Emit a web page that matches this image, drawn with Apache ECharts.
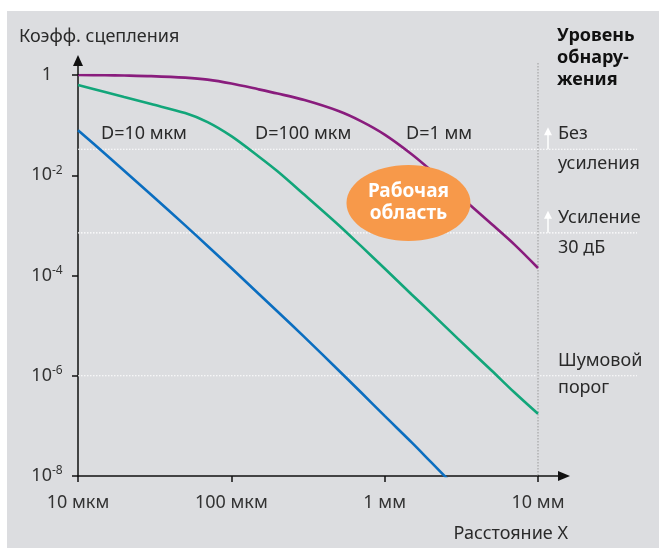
<!DOCTYPE html>
<html><head><meta charset="utf-8">
<script src="https://cdn.jsdelivr.net/npm/echarts@6/dist/echarts.min.js"></script>
<style>html,body{margin:0;padding:0;background:#fff}#c{width:659px;height:548px}</style>
</head><body><div id="c"></div>
<script>
// ---- data ----
const xDist = [10,15,20,30,50,70,100,150,200,300,500,700,1000,1500,2000,3000,5000,7000,10000]; // мкм
const yD1mm   = [1,0.989,0.975,0.948,0.885,0.809,0.676,0.519,0.427,0.316,0.191,0.120,0.0646,0.0263,0.0126,0.00417,0.00105,4.17e-4,1.41e-4];
const yD100um = [0.631,0.457,0.363,0.263,0.174,0.115,0.0603,0.024,0.012,0.00407,0.00102,3.89e-4,1.38e-4,4.17e-5,1.82e-5,5.5e-6,1.26e-6,4.68e-7,1.74e-7];
const yD10um  = [0.0794,0.0269,0.0123,0.00407,0.001,3.89e-4,1.41e-4,4.37e-5,1.91e-5,5.89e-6,1.29e-6,4.68e-7,1.58e-7,4.68e-8,1.91e-8,5.4e-9,null,null,null];
const seriesNames = ['D=10 мкм','D=100 мкм','D=1 мм'];
const xTickLabels = ['10 мкм','100 мкм','1 мм','10 мм'];
const detectLevels = [0.033, 7.1e-4, 1e-6];
const detectLabels = [['Без','усиления'],['Усиление','30 дБ'],['Шумовой','порог']];
const workArea = [1430, 2.8e-3]; // центр "Рабочая область"

const FF = "'Noto Sans','Open Sans',sans-serif";
const TXT = '#2a2a2a';
const toPairs = arr => xDist.map((x,i)=>[x,arr[i]]).filter(p=>p[1]!=null);

const chart = echarts.init(document.getElementById('c'));
chart.setOption({
  animation:false,
  backgroundColor:'#ffffff',
  grid:{left:78,right:121,top:75,bottom:72,containLabel:false},
  xAxis:{type:'log',logBase:10,min:10,max:10000,
    axisLine:{show:true,lineStyle:{color:'#111',width:1.5}},
    axisTick:{show:true,length:6,lineStyle:{color:'#111',width:1.5}},
    minorTick:{show:false},splitLine:{show:false},
    axisLabel:{margin:18,fontSize:18,color:'#333',fontFamily:FF,
      formatter:v=>xTickLabels[Math.round(Math.log10(v))-1]}},
  yAxis:{type:'log',logBase:10,min:1e-8,max:1,interval:2,
    axisLine:{show:true,lineStyle:{color:'#111',width:1.5}},
    axisTick:{show:true,length:6,lineStyle:{color:'#111',width:1.5}},
    minorTick:{show:false},splitLine:{show:false},
    axisLabel:{margin:31,align:'center',color:'#333',fontFamily:FF,
      formatter:v=>{const e=Math.round(Math.log10(v)); return e===0?'{b|1}':'{b|10}{s|'+e+'}';},
      rich:{b:{fontSize:18,fontFamily:FF,color:'#333'},s:{fontSize:12,fontFamily:FF,color:'#333',padding:[0,0,10,0]}}}},
  series:[
    {name:seriesNames[0],type:'line',data:toPairs(yD10um),showSymbol:false,smooth:0.3,lineStyle:{color:'#0b6ec0',width:2.6},z:3},
    {name:seriesNames[1],type:'line',data:toPairs(yD100um),showSymbol:false,smooth:0.3,lineStyle:{color:'#12a67a',width:2.6},z:3},
    {name:seriesNames[2],type:'line',data:toPairs(yD1mm),showSymbol:false,smooth:0.3,lineStyle:{color:'#891c7d',width:2.6},z:3}
  ]
});

const P = (x,y)=>chart.convertToPixel({gridIndex:0},[x,y]);
const o = P(10,1e-8), tr = P(10000,1);
const x0=o[0], yB=o[1], xR=tr[0], yT=tr[1];
const g = [];
const F18 = '18px '+FF;
g.push({type:'rect',z:-10,shape:{x:7,y:11,width:652,height:537},style:{fill:'#dcdde0'},silent:true});
// detection lines
detectLevels.forEach((lv,i)=>{
  const y=P(10,lv)[1];
  g.push({type:'line',z:1,shape:{x1:x0,y1:y,x2:637,y2:y},style:{stroke:'#ffffff',lineWidth:1.2,lineDash:[1.5,1.5]}});
  g.push({type:'text',z:5,style:{x:558,y:y-15,text:detectLabels[i][0],font:F18,fill:TXT,textVerticalAlign:'middle'}});
  g.push({type:'text',z:5,style:{x:558,y:y+(i===2?12:15),text:detectLabels[i][1],font:F18,fill:TXT,textVerticalAlign:'middle'}});
  if(i<2){
    g.push({type:'line',z:6,shape:{x1:548,y1:y,x2:548,y2:y-16},style:{stroke:'#fff',lineWidth:1.5}});
    g.push({type:'polygon',z:6,shape:{points:[[548,y-22],[544,y-14],[552,y-14]]},style:{fill:'#fff'}});
  }
});
// vertical dotted line at 10 mm
g.push({type:'line',z:1,shape:{x1:xR,y1:63,x2:xR,y2:yB},style:{stroke:'#9a9a9a',lineWidth:1,lineDash:[1.5,1.5]}});
// axis arrows
g.push({type:'line',z:4,shape:{x1:x0,y1:yT,x2:x0,y2:62},style:{stroke:'#111',lineWidth:1.5}});
g.push({type:'polygon',z:4,shape:{points:[[x0,55],[x0-5,66],[x0+5,66]]},style:{fill:'#111'}});
g.push({type:'line',z:4,shape:{x1:xR,y1:yB,x2:562,y2:yB},style:{stroke:'#111',lineWidth:1.5}});
g.push({type:'polygon',z:4,shape:{points:[[570,yB],[558,yB-5],[558,yB+5]]},style:{fill:'#111'}});
// axis names
g.push({type:'text',z:5,style:{x:19,y:37,text:'Коэфф. сцепления',font:F18,fill:TXT,textVerticalAlign:'middle'}});
g.push({type:'text',z:5,style:{x:568,y:534,text:'Расстояние X',font:F18,fill:TXT,textAlign:'right',textVerticalAlign:'middle'}});
// header
g.push({type:'text',z:5,style:{x:557,y:25,text:'Уровень\nобнару-\nжения',font:'bold 18px '+FF,fill:'#111',lineHeight:22}});
// curve labels
[[101,seriesNames[0]],[255,seriesNames[1]],[406,seriesNames[2]]].forEach(a=>{
  g.push({type:'text',z:5,style:{x:a[0],y:134,text:a[1],font:F18,fill:TXT,textVerticalAlign:'middle'}});
});
// working area ellipse
const c = P(workArea[0],workArea[1]);
g.push({type:'ellipse',z:10,shape:{cx:c[0],cy:c[1],rx:62,ry:38},style:{fill:'#f7994a'}});
g.push({type:'text',z:11,style:{x:c[0],y:c[1]-11,text:'Рабочая',font:'bold 19px '+FF,fill:'#fff',textAlign:'center',textVerticalAlign:'middle'}});
g.push({type:'text',z:11,style:{x:c[0],y:c[1]+11,text:'область',font:'bold 19px '+FF,fill:'#fff',textAlign:'center',textVerticalAlign:'middle'}});
chart.setOption({graphic:g});
</script></body></html>
